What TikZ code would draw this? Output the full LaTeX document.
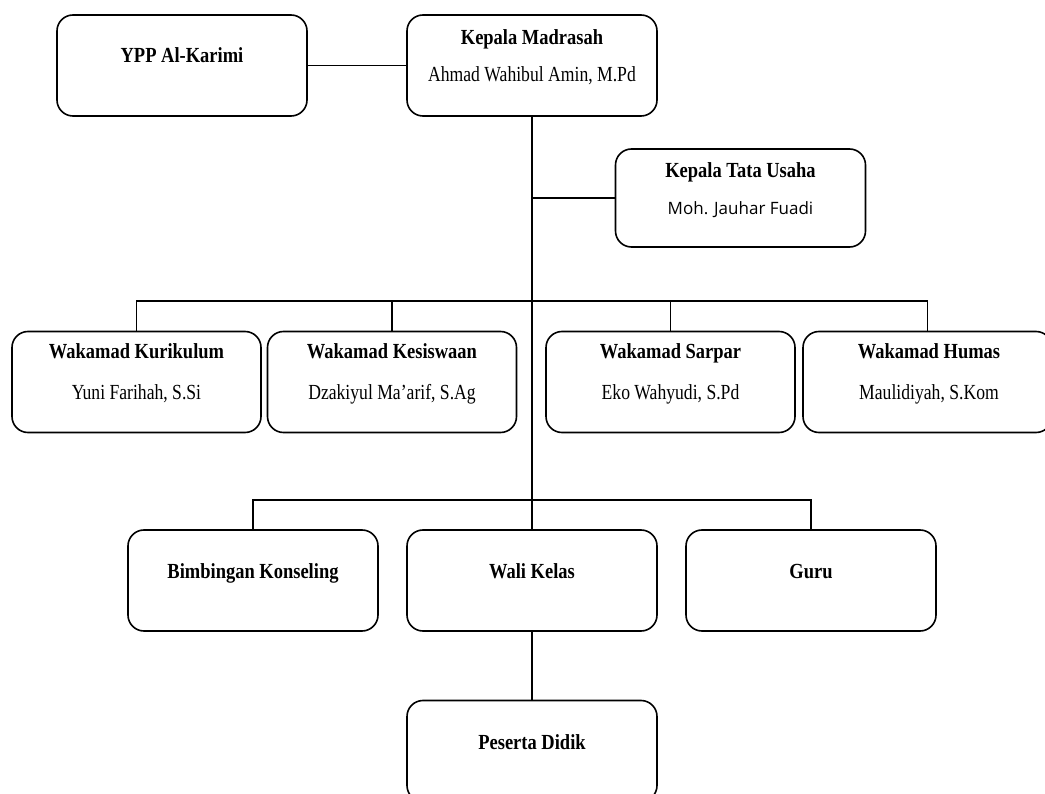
\documentclass[tikz,border=0pt]{standalone}
\usepackage{fontspec}
\setmainfont{Liberation Serif}[FakeStretch=0.86]
\newfontfamily\namefont{Liberation Serif}[FakeStretch=0.82]
\newfontfamily\namesans{Open Sans}
\begin{document}
\begin{tikzpicture}[x=1pt,y=-1pt,
  box/.style={draw=black,line width=1.6pt,rounded corners=16pt,minimum width=250pt,minimum height=101pt,inner sep=0pt},
  ttl/.style={font=\fontsize{21.5}{24}\selectfont\bfseries,anchor=base,inner sep=0pt},
  nm/.style={font=\namefont\fontsize{21.5}{24}\selectfont,anchor=base,inner sep=0pt},
  nmsans/.style={font=\namesans\fontsize{17}{20}\selectfont,anchor=base,inner sep=0pt},
  conn/.style={draw=black,line width=1.3pt}]
\useasboundingbox (0,0) rectangle (1045,794);
\fill[white] (0,0) rectangle (1045,794);
% boxes
\node[box] (ypp) at (182,65.5) {};
\node[box] (km) at (532,65.5) {};
\node[box,minimum height=98pt] (ktu) at (740.5,198) {};
\node[box,minimum width=249pt] (kur) at (136.5,382) {};
\node[box,minimum width=249pt] (kes) at (392,382) {};
\node[box,minimum width=249pt] (sar) at (670.5,382) {};
\node[box,minimum width=249pt] (hum) at (927.5,382) {};
\node[box] (bk) at (253,580.5) {};
\node[box] (wk) at (532,580.5) {};
\node[box] (guru) at (811,580.5) {};
\node[box] (pd) at (532,751) {};
% texts
\node[ttl] (t-ypp) at (182,63) {YPP Al-Karimi};
\node[ttl] (t-km) at (532,45) {Kepala Madrasah};
\node[nm] (n-km) at (532,82) {Ahmad Wahibul Amin, M.Pd};
\node[ttl] (t-ktu) at (740.5,178) {Kepala Tata Usaha};
\node[nmsans] (n-ktu) at (740.5,215) {Moh. Jauhar Fuadi};
\node[ttl] (t-kur) at (136.5,359) {Wakamad Kurikulum};
\node[nm] (n-kur) at (136.5,400) {Yuni Farihah, S.Si};
\node[ttl] (t-kes) at (392,359) {Wakamad Kesiswaan};
\node[nm] (n-kes) at (392,400) {Dzakiyul Ma’arif, S.Ag};
\node[ttl] (t-sar) at (670.5,359) {Wakamad Sarpar};
\node[nm] (n-sar) at (670.5,400) {Eko Wahyudi, S.Pd};
\node[ttl] (t-hum) at (929,359) {Wakamad Humas};
\node[nm] (n-hum) at (929,400) {Maulidiyah, S.Kom};
\node[ttl] (t-bk) at (253,578) {Bimbingan Konseling};
\node[ttl] (t-wk) at (532,578) {Wali Kelas};
\node[ttl] (t-guru) at (811,578) {Guru};
\node[ttl] (t-pd) at (532,749) {Peserta Didik};
% connectors
\coordinate (b1) at (532,301);
\coordinate (b2) at (532,500);
\draw[conn] (ypp.east) -- (km.west);
\draw[conn] (km.south) -- (wk.north);
\draw[conn] (km.south |- ktu.west) -- (ktu.west);
\draw[conn] (kur.north) |- (b1) -| (hum.north);
\draw[conn] (kes.north) |- (b1);
\draw[conn] (sar.north) |- (b1);
\draw[conn] (bk.north) |- (b2) -| (guru.north);
\draw[conn] (wk.south) -- (pd.north);
\end{tikzpicture}
\end{document}
